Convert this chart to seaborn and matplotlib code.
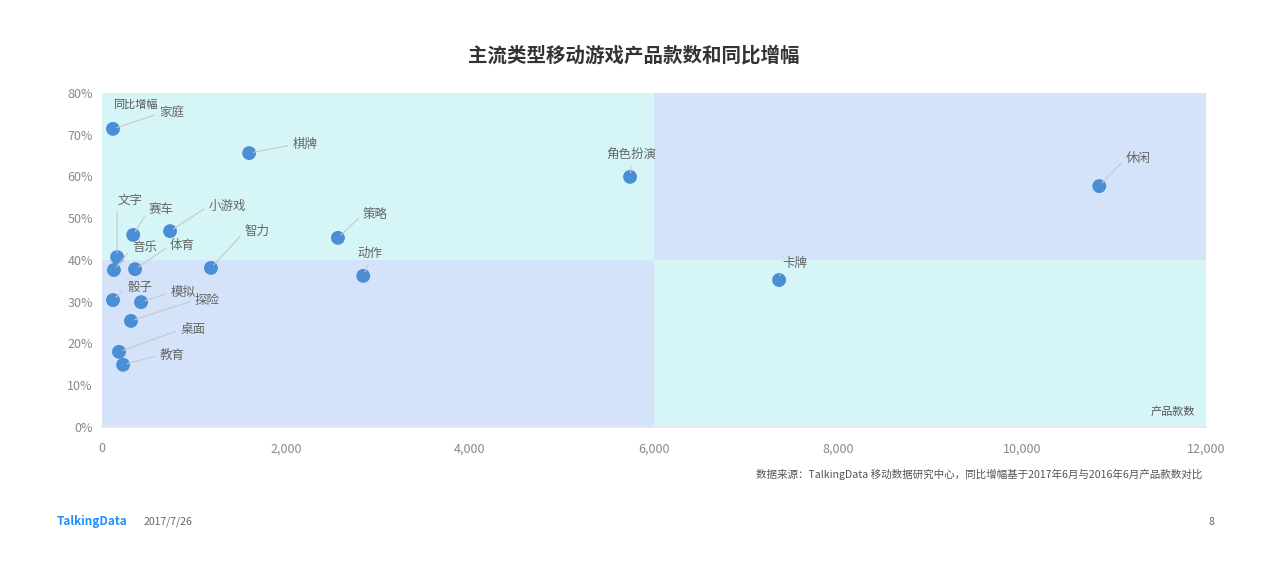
import matplotlib
matplotlib.use("Agg")
import matplotlib.pyplot as plt
from matplotlib.patches import Rectangle
from matplotlib.ticker import FuncFormatter
import seaborn as sns
import pandas as pd

# data
genres = ["家庭", "棋牌", "角色扮演", "休闲", "文字", "赛车", "小游戏", "策略", "音乐",
          "体育", "智力", "动作", "卡牌", "骰子", "模拟", "探险", "桌面", "教育"]
counts = [120, 1600, 5740, 10840, 165, 340, 740, 2565, 130,
          360, 1185, 2840, 7360, 120, 425, 315, 185, 230]
growth = [0.714, 0.656, 0.599, 0.577, 0.407, 0.460, 0.469, 0.453, 0.376,
          0.378, 0.381, 0.362, 0.352, 0.304, 0.299, 0.254, 0.180, 0.149]
# label centre offsets in points (dx, dy) relative to each dot
label_dx = [42, 40, 1, 28, 9, 20, 41, 27, 22, 34, 33, 5, 11, 19, 30, 55, 53, 35]
label_dy = [11, 6, 16, 20, 41, 18, 18, 17, 16, 17, 26, 16, 12, 9, 7, 15, 16, 7]

quad_x = 6000
quad_y = 0.40
x_max = 12000
y_max = 0.80

df = pd.DataFrame({"genre": genres, "count": counts, "growth": growth})

sns.set_theme(style="white")
plt.rcParams["font.family"] = ["Noto Sans CJK SC", "DejaVu Sans"]

fig = plt.figure(figsize=(12.68, 5.69), dpi=100)
ax = fig.add_axes([0.0804, 0.2496, 0.8707, 0.5870])

cyan = "#d5f5f7"
blue = "#d4e3fa"
ax.add_patch(Rectangle((0, quad_y), quad_x, y_max - quad_y, color=cyan, lw=0, zorder=0))
ax.add_patch(Rectangle((0, 0), quad_x, quad_y, color=blue, lw=0, zorder=0))
ax.add_patch(Rectangle((quad_x, quad_y), x_max - quad_x, y_max - quad_y, color=blue, lw=0, zorder=0))
ax.add_patch(Rectangle((quad_x, 0), x_max - quad_x, quad_y, color=cyan, lw=0, zorder=0))

sns.scatterplot(data=df, x="count", y="growth", ax=ax, s=100, color="#4a8fd6",
                edgecolor="none", zorder=3, legend=False)

for g, cx, cy, dx, dy in zip(genres, counts, growth, label_dx, label_dy):
    rel = (0.5, 0.0) if dx < 8 else (0.0, 0.5)
    ax.annotate(g, (cx, cy), xytext=(dx, dy), textcoords="offset points",
                ha="center", va="center", fontsize=9, color="#666666", zorder=4,
                arrowprops=dict(arrowstyle="-", color="#c8c8c8", lw=0.8,
                                shrinkA=1, shrinkB=3, relpos=rel))

ax.set_xlim(0, x_max)
ax.set_ylim(0, y_max)
ax.set_xticks(range(0, x_max + 1, 2000))
ax.set_yticks([i / 10 for i in range(0, 9)])
ax.xaxis.set_major_formatter(FuncFormatter(lambda v, p: f"{int(v):,}"))
ax.yaxis.set_major_formatter(FuncFormatter(lambda v, p: f"{v:.0%}"))
ax.tick_params(axis="both", labelsize=9, colors="#888888", length=3, width=0.6)
ax.tick_params(axis="x", pad=8)
ax.set_xlabel("")
ax.set_ylabel("")
for side in ["top", "right", "left"]:
    ax.spines[side].set_visible(False)
ax.spines["bottom"].set_color("#e6e6e6")

ax.text(0.01, 0.98, "同比增幅", transform=ax.transAxes, fontsize=8,
        color="#555555", va="top", ha="left")
ax.text(0.99, 0.03, "产品款数", transform=ax.transAxes, fontsize=8,
        color="#555555", va="bottom", ha="right")

fig.text(0.5, 0.903, "主流类型移动游戏产品款数和同比增幅", ha="center", va="center",
         fontsize=14, fontweight="bold", color="#333333")
fig.text(0.948, 0.167, "数据来源：TalkingData 移动数据研究中心，同比增幅基于2017年6月与2016年6月产品款数对比",
         ha="right", va="center", fontsize=7.6, color="#555555")
fig.text(0.045, 0.083, "TalkingData", ha="left", va="center", fontsize=8.5,
         color="#1e90ff", fontweight="bold")
fig.text(0.113, 0.083, "2017/7/26", ha="left", va="center", fontsize=7.5, color="#666666")
fig.text(0.955, 0.083, "8", ha="center", va="center", fontsize=7.5, color="#666666")

fig.savefig("out.png", dpi=100)
